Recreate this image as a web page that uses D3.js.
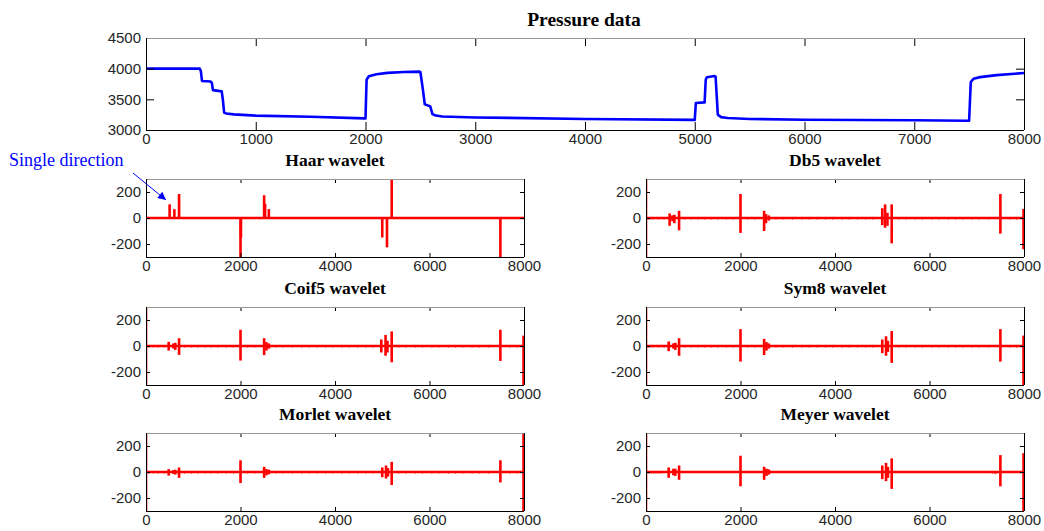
<!DOCTYPE html>
<html>
<head>
<meta charset="utf-8">
<script src="https://cdn.jsdelivr.net/npm/d3@7"></script>
<style>
  body { margin: 0; background: #fff; }
  .tick text { font-family: "Liberation Sans", Arial, sans-serif; font-size: 15px; fill: #262626; }
</style>
</head>
<body>
<div id="chart"></div>
<script>
// pressure series, breakpoints
const pressureX = [0, 490, 500, 510, 590, 600, 610, 690, 700, 712, 730, 800, 1000, 1500, 1990, 2000, 2010, 2030, 2100, 2200, 2350, 2490, 2500, 2520, 2540, 2590, 2610, 2640, 2700, 3000, 4000, 4990, 5000, 5010, 5090, 5100, 5110, 5180, 5190, 5210, 5240, 5300, 5500, 6000, 7000, 7490, 7500, 7515, 7540, 7600, 7750, 8000];
const pressureY = [4000, 4000, 3960, 3800, 3790, 3770, 3650, 3630, 3500, 3285, 3270, 3255, 3235, 3215, 3190, 3190, 3820, 3875, 3910, 3932, 3945, 3952, 3945, 3700, 3420, 3385, 3260, 3235, 3220, 3205, 3180, 3165, 3165, 3440, 3450, 3820, 3860, 3880, 3870, 3250, 3210, 3195, 3180, 3168, 3158, 3150, 3150, 3780, 3835, 3862, 3895, 3930];

// wavelet coefficients: spikes as [position, low, high]
const haarSpikes = [[0, 0, 10], [500, 0, 105], [600, 0, 68], [700, 0, 185], [2000, -320, 0], [2010, -150, 0], [2500, 0, 175], [2520, 0, 110], [2600, 0, 68], [5000, -150, 0], [5100, -226, 0], [5200, 0, 320], [7500, -320, 0]];
const db5Spikes = [[0, -320, 320], [500, -60, 35], [560, -25, 20], [600, -40, 25], [700, -95, 55], [2000, -115, 185], [2500, -100, 55], [2540, -40, 30], [2600, -20, 20], [5000, -55, 75], [5060, -75, 105], [5110, -60, 40], [5200, -195, 105], [7500, -120, 185], [7990, -240, 70]];
const coif5Spikes = [[0, -320, 320], [480, -35, 32], [580, -20, 20], [620, -30, 25], [700, -68, 60], [2000, -112, 125], [2500, -70, 60], [2550, -35, 30], [2600, -20, 20], [4980, -50, 50], [5070, -75, 85], [5110, -50, 40], [5200, -125, 112], [7500, -115, 125], [7990, -320, 80]];
const sym8Spikes = [[0, -320, 320], [480, -40, 35], [580, -20, 20], [620, -30, 25], [700, -75, 60], [2000, -120, 130], [2500, -70, 55], [2550, -35, 30], [2600, -20, 20], [5000, -55, 50], [5080, -75, 75], [5120, -45, 40], [5200, -130, 115], [7500, -120, 130], [7990, -320, 80]];
const morletSpikes = [[0, -320, 320], [480, -28, 22], [580, -15, 15], [620, -20, 18], [700, -45, 35], [2000, -85, 90], [2500, -45, 40], [2550, -25, 22], [2600, -18, 18], [5000, -40, 35], [5080, -50, 50], [5120, -35, 30], [5200, -100, 78], [7500, -80, 90], [7990, -320, 320]];
const meyerSpikes = [[0, -320, 320], [480, -45, 35], [580, -25, 25], [620, -30, 25], [700, -60, 50], [2000, -110, 125], [2500, -60, 40], [2550, -30, 25], [2600, -20, 20], [5000, -55, 50], [5080, -70, 70], [5120, -45, 40], [5200, -130, 105], [7400, -12, 0], [7500, -110, 130], [7990, -320, 145]];

// small ripples along the baseline
const rippleX = [60, 150, 260, 380, 820, 960, 1100, 1250, 1380, 1520, 1700, 1850, 2150, 2300, 2750, 2900, 3100, 3300, 3450, 3620, 3800, 3950, 4150, 4300, 4480, 4650, 4800, 5350, 5500, 5700, 5850, 6050, 6200, 6400, 6550, 6700, 6900, 7050, 7250, 7700, 7850];
const meyerRippleX = [60, 110, 160, 210, 260, 310, 7330, 7370];

const pressureTicksY = [3000, 3500, 4000, 4500];
const pressureTicksX = [0, 1000, 2000, 3000, 4000, 5000, 6000, 7000, 8000];
const waveTicksY = [-200, 0, 200];
const waveTicksX = [0, 2000, 4000, 6000, 8000];

const panels = [
    { title: "Haar wavelet", spikes: haarSpikes, ripple: [], col: 0, row: 0 },
    { title: "Db5 wavelet", spikes: db5Spikes, ripple: rippleX, col: 1, row: 0 },
    { title: "Coif5 wavelet", spikes: coif5Spikes, ripple: rippleX, col: 0, row: 1 },
    { title: "Sym8 wavelet", spikes: sym8Spikes, ripple: rippleX, col: 1, row: 1 },
    { title: "Morlet wavelet", spikes: morletSpikes, ripple: rippleX, col: 0, row: 2 },
    { title: "Meyer wavelet", spikes: meyerSpikes, ripple: meyerRippleX, col: 1, row: 2 }
];

const W = 1044, H = 531;
const svg = d3.select("#chart").append("svg")
    .attr("width", W)
    .attr("height", H);

const plain = d => String(d).replace("\u2212", "-");

function frame(g, w, h, x, y, xTicks, yTicks, tickLen) {
    // tick marks point inward on all four sides, matlab style
    g.append("g")
        .attr("transform", `translate(0,${h})`)
        .call(d3.axisBottom(x).tickValues(xTicks).tickSizeInner(-tickLen).tickSizeOuter(0).tickPadding(3).tickFormat(plain))
        .call(a => a.select(".domain").remove());
    g.append("g")
        .call(d3.axisTop(x).tickValues(xTicks).tickSizeInner(-tickLen).tickSizeOuter(0).tickFormat(""))
        .call(a => a.select(".domain").remove());
    g.append("g")
        .call(d3.axisLeft(y).tickValues(yTicks).tickSizeInner(-tickLen).tickSizeOuter(0).tickPadding(5).tickFormat(plain))
        .call(a => a.select(".domain").remove());
    g.append("g")
        .attr("transform", `translate(${w},0)`)
        .call(d3.axisRight(y).tickValues(yTicks).tickSizeInner(-tickLen).tickSizeOuter(0).tickFormat(""))
        .call(a => a.select(".domain").remove());
    g.selectAll(".tick line").attr("stroke", "#000");

    g.append("line").attr("x1", 0).attr("x2", w).attr("y1", 0.5).attr("y2", 0.5).attr("stroke", "#999");
    g.append("line").attr("x1", 0).attr("x2", w).attr("y1", h + 0.5).attr("y2", h + 0.5).attr("stroke", "#000");
    g.append("line").attr("x1", 0.5).attr("x2", 0.5).attr("y1", 0).attr("y2", h).attr("stroke", "#000");
    g.append("line").attr("x1", w + 0.5).attr("x2", w + 0.5).attr("y1", 0).attr("y2", h).attr("stroke", "#000");
}

// ---- pressure panel ----
let pBox = { left: 146, right: 1024, top: 38, bottom: 130 };
let tw = pBox.right - pBox.left, th = pBox.bottom - pBox.top;
let gTop = svg.append("g").attr("transform", `translate(${pBox.left},${pBox.top})`);

let xP = d3.scaleLinear().domain([0, 8000]).range([0, tw]);
let yP = d3.scaleLinear().domain([3000, 4500]).range([th, 0]);

let pressure = pressureX.map((d, i) => ({ x: d, y: pressureY[i] }));

gTop.append("path")
    .datum(pressure)
    .attr("fill", "none")
    .attr("stroke", "#0000ff")
    .attr("stroke-width", 2.6)
    .attr("stroke-linejoin", "round")
    .attr("d", d3.line().x(d => xP(d.x)).y(d => yP(d.y)));

frame(gTop, tw, th, xP, yP, pressureTicksX, pressureTicksY, 8);

svg.append("text")
    .attr("x", 584)
    .attr("y", 26)
    .attr("text-anchor", "middle")
    .style("font-family", "'Liberation Serif', 'Times New Roman', serif")
    .style("font-size", "19.5px")
    .style("font-weight", "bold")
    .text("Pressure data");

// ---- wavelet panels ----
const colLeft = [146, 646];
const colWidth = 378;
const rowTop = [179, 307, 433];
const rowHeight = 78;

svg.append("defs").selectAll("clipPath")
    .data(panels)
    .enter()
    .append("clipPath")
    .attr("id", (d, i) => "clip" + i)
    .append("rect")
    .attr("width", colWidth + 1)
    .attr("height", rowHeight);

panels.forEach((p, i) => {
    let g = svg.append("g")
        .attr("transform", `translate(${colLeft[p.col]},${rowTop[p.row]})`);

    let x = d3.scaleLinear().domain([0, 8000]).range([0, colWidth]);
    let y = d3.scaleLinear().domain([-300, 300]).range([rowHeight, 0]);

    let plot = g.append("g").attr("clip-path", `url(#clip${i})`);

    plot.append("line")
        .attr("x1", x(0)).attr("x2", x(8000))
        .attr("y1", y(0)).attr("y2", y(0))
        .attr("stroke", "#ff0000")
        .attr("stroke-width", 2.6);

    plot.selectAll(".ripple")
        .data(p.ripple)
        .enter()
        .append("line")
        .attr("class", "ripple")
        .attr("x1", d => x(d)).attr("x2", d => x(d))
        .attr("y1", y(-12)).attr("y2", y(8))
        .attr("stroke", "#ff0000")
        .attr("stroke-width", 1);

    plot.selectAll(".spike")
        .data(p.spikes)
        .enter()
        .append("line")
        .attr("class", "spike")
        .attr("x1", d => x(d[0])).attr("x2", d => x(d[0]))
        .attr("y1", d => y(d[1])).attr("y2", d => y(d[2]))
        .attr("stroke", "#ff0000")
        .attr("stroke-width", 2.6);

    frame(g, colWidth, rowHeight, x, y, waveTicksX, waveTicksY, 4);

    svg.append("text")
        .attr("x", colLeft[p.col] + colWidth / 2)
        .attr("y", rowTop[p.row] - 13)
        .attr("text-anchor", "middle")
        .style("font-family", "'Liberation Serif', 'Times New Roman', serif")
        .style("font-size", "17.5px")
        .style("font-weight", "bold")
        .text(p.title);
});

// ---- annotation ----
svg.append("defs").append("marker")
    .attr("id", "arrow")
    .attr("viewBox", "0 0 10 10")
    .attr("refX", 10).attr("refY", 5)
    .attr("markerWidth", 12).attr("markerHeight", 8)
    .attr("markerUnits", "userSpaceOnUse")
    .attr("orient", "auto")
    .append("path")
    .attr("d", "M0,0 L10,5 L0,10 z")
    .attr("fill", "#0000ff");

svg.append("line")
    .attr("x1", 133).attr("y1", 173)
    .attr("x2", 166).attr("y2", 200)
    .attr("stroke", "#0000ff")
    .attr("stroke-width", 1)
    .attr("marker-end", "url(#arrow)");

svg.append("text")
    .attr("x", 9)
    .attr("y", 166)
    .style("font-family", "'Liberation Serif', 'Times New Roman', serif")
    .style("font-size", "18px")
    .style("fill", "#0000ff")
    .text("Single direction");
</script>
</body>
</html>
